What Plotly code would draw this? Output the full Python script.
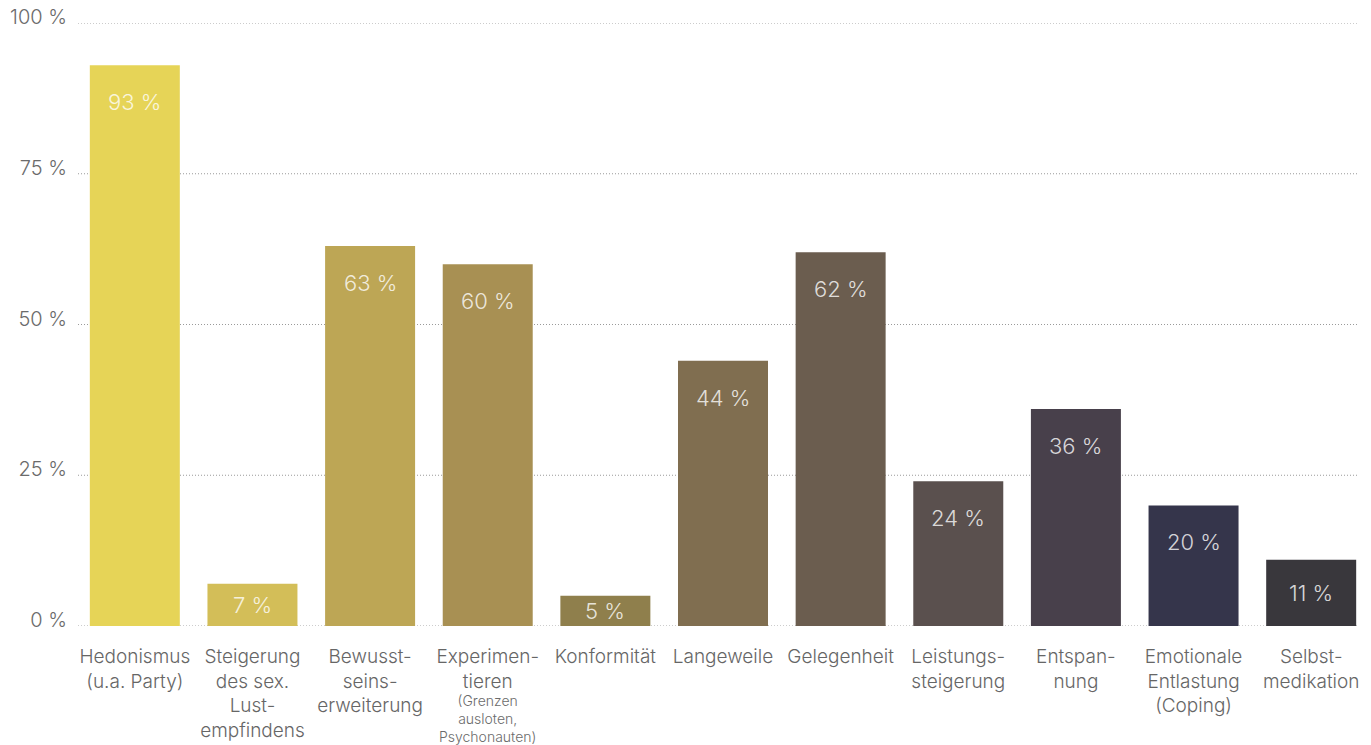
import plotly.graph_objects as go

# Motive für den Substanzkonsum (Anteil in %)
categories = [
    "Hedonismus", "Steigerung", "Bewusstsein", "Experimentieren", "Konformität",
    "Langeweile", "Gelegenheit", "Leistung", "Entspannung", "Emotional", "Selbstmedikation",
]
tick_labels = [
    "Hedonismus<br>(u.a. Party)",
    "Steigerung<br>des sex.<br>Lust-<br>empfindens",
    "Bewusst-<br>seins-<br>erweiterung",
    "Experimen-<br>tieren",
    "Konformität",
    "Langeweile",
    "Gelegenheit",
    "Leistungs-<br>steigerung",
    "Entspan-<br>nung",
    "Emotionale<br>Entlastung<br>(Coping)",
    "Selbst-<br>medikation",
]
values = [93, 7, 63, 60, 5, 44, 62, 24, 36, 20, 11]
value_labels = ["93 %", "7 %", "63 %", "60 %", "5 %", "44 %", "62 %", "24 %", "36 %", "20 %", "11 %"]
bar_colors = [
    "#E6D457", "#D3BE58", "#BDA655", "#A89053", "#8F7F4C", "#806E50",
    "#6B5D4F", "#5A504E", "#48404B", "#35354B", "#39373C",
]
sub_note = "(Grenzen<br>ausloten,<br>Psychonauten)"
y_ticks = [0, 25, 50, 75, 100]
y_tick_labels = ["0 %", "25 %", "50 %", "75 %", "100 %"]

FONT = "Inter"
W, H = 1371, 745
M_L, M_R, M_T, M_B = 76, 1, 23, 119
PLOT_H = H - M_T - M_B
PLOT_W = W - M_L - M_R

fig = go.Figure()
fig.add_trace(go.Bar(
    x=categories, y=values,
    marker=dict(color=bar_colors, line=dict(width=0)),
    hoverinfo="skip",
))

# dotted horizontal guides, drawn behind the bars
grid_x0 = 2 / PLOT_W
grid_x1 = (1358 - M_L) / PLOT_W
for t in y_ticks:
    fig.add_shape(
        type="line", xref="paper", yref="y", x0=grid_x0, x1=grid_x1, y0=t, y1=t,
        line=dict(color="#9a9a9a", width=1, dash="1px,2px"), layer="below",
    )

# value labels inside the bars, near the top
for cat, v, lab in zip(categories, values, value_labels):
    px_h = v / 100 * PLOT_H
    fig.add_annotation(
        x=cat, y=v, xref="x", yref="y", text=lab, showarrow=False,
        yanchor="middle", yshift=-min(37, px_h / 2),
        font=dict(family=FONT, size=22, color="rgba(255,255,255,0.8)", weight=300),
    )

# small note under the "Experimentieren" label
fig.add_annotation(
    x="Experimentieren", y=0, xref="x", yref="paper", text=sub_note,
    showarrow=False, yanchor="top", yshift=-64,
    font=dict(family=FONT, size=14, color="#6b6b6b", weight=300),
)

fig.update_layout(
    width=W, height=H,
    margin=dict(l=M_L, r=M_R, t=M_T, b=M_B),
    paper_bgcolor="white", plot_bgcolor="rgba(0,0,0,0)",
    bargap=0.235, showlegend=False,
    font=dict(family=FONT, color="#6b6b6b"),
)
fig.update_xaxes(
    tickvals=categories, ticktext=tick_labels,
    tickfont=dict(family=FONT, size=19, color="#666666", weight=300),
    showgrid=False, zeroline=False, showline=False, ticks="",
    ticklabelstandoff=17, automargin=False,
)
fig.update_yaxes(
    range=[0, 100], tickvals=y_ticks, ticktext=y_tick_labels,
    tickfont=dict(family=FONT, size=20, color="#6b6b6b", weight=300),
    showgrid=False, zeroline=False, showline=False, ticks="",
    ticklabelstandoff=8, ticklabelshift=-6, automargin=False,
)

fig.write_html("out.html")
